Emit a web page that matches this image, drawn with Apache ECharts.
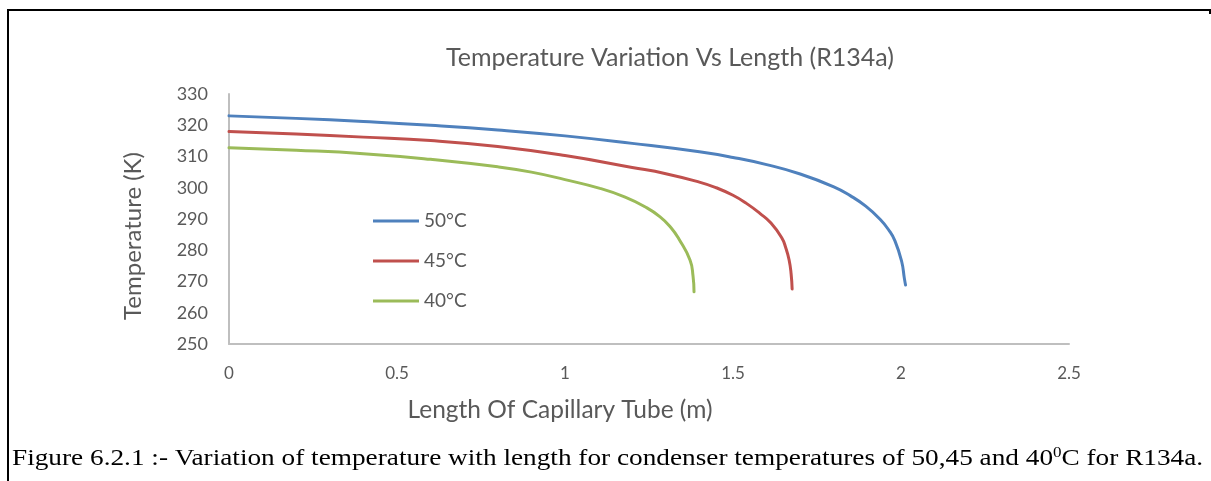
<!DOCTYPE html>
<html>
<head>
<meta charset="utf-8">
<script src="https://cdn.jsdelivr.net/npm/echarts@6/dist/echarts.min.js"></script>
<style>
  html, body { margin: 0; padding: 0; background: #fff; }
  #main { width: 1211px; height: 481px; }
</style>
</head>
<body>
<div id="main"></div>
<script>
// data
const seriesNames = ['50°C', '45°C', '40°C']
const xTicks = [0, 0.5, 1, 1.5, 2, 2.5]
const yTicks = [250, 260, 270, 280, 290, 300, 310, 320, 330]

const len50 = [0, 0.2, 0.4, 0.6, 0.8, 1.0, 1.2, 1.4, 1.5, 1.6, 1.7, 1.8, 1.85, 1.895, 1.937, 1.964, 1.982, 2.002, 2.01, 2.0135]
const temp50 = [323.0, 322.2, 321.2, 320.0, 318.5, 316.6, 314.2, 311.5, 309.7, 307.4, 304.4, 300.3, 297.4, 294.1, 290.0, 286.4, 283.0, 276.4, 271.0, 268.9]

const len45 = [0, 0.2, 0.4, 0.6, 0.8, 1.0, 1.2, 1.3, 1.4, 1.45, 1.5, 1.54, 1.58, 1.613, 1.645, 1.657, 1.667, 1.673, 1.676]
const temp45 = [318.0, 317.2, 316.2, 315.1, 313.2, 310.3, 306.5, 304.5, 301.8, 300.0, 297.6, 295.0, 291.8, 288.7, 284.0, 280.8, 276.9, 272.4, 267.6]

const len40 = [0, 0.2, 0.4, 0.6, 0.8, 0.9, 1.0, 1.104, 1.179, 1.238, 1.283, 1.315, 1.339, 1.372, 1.381, 1.384]
const temp40 = [312.8, 312.0, 310.9, 309.1, 306.7, 305.0, 302.6, 299.8, 297.0, 293.9, 290.7, 287.3, 283.6, 276.9, 271.8, 266.7]

const colors = ['#4F81BD', '#C0504D', '#9BBB59']
const font = 'Lato, "Open Sans", sans-serif'
const grey = '#595959'

function pairs (xs, ys) {
  return xs.map((x, i) => [x, ys[i]])
}

const chart = echarts.init(document.getElementById('main'))

const lines = [pairs(len50, temp50), pairs(len45, temp45), pairs(len40, temp40)]

const option = {
  animation: false,
  backgroundColor: '#fff',
  textStyle: { fontFamily: font },
  title: {
    text: 'Temperature Variation Vs Length (R134a)',
    left: 665,
    top: 40,
    textAlign: 'center',
    textStyle: { fontFamily: font, fontSize: 25, fontWeight: 'normal', color: grey }
  },
  grid: { left: 229, right: 142, top: 94, bottom: 137, containLabel: false },
  legend: {
    orient: 'vertical',
    left: 368,
    top: 206,
    icon: 'rect',
    itemWidth: 46,
    itemHeight: 3,
    itemGap: 20,
    data: seriesNames,
    textStyle: { fontFamily: font, fontSize: 19, color: grey, lineHeight: 20 }
  },
  xAxis: {
    type: 'value',
    min: xTicks[0],
    max: xTicks[xTicks.length - 1],
    interval: 0.5,
    splitLine: { show: false },
    axisTick: { show: false },
    axisLine: { show: true, lineStyle: { color: '#BFBFBF', width: 2 } },
    axisLabel: { margin: 21, fontFamily: font, fontSize: 17, color: grey }
  },
  yAxis: {
    type: 'value',
    min: yTicks[0],
    max: yTicks[yTicks.length - 1],
    interval: 10,
    splitLine: { show: false },
    axisTick: { show: false },
    axisLine: { show: true, lineStyle: { color: '#BFBFBF', width: 2 } },
    axisLabel: { margin: 21, fontFamily: font, fontSize: 18, color: grey }
  },
  series: seriesNames.map((name, i) => ({
    name: name,
    type: 'line',
    data: lines[i],
    symbol: 'none',
    smooth: 0.5,
    lineStyle: { width: 3, color: colors[i], cap: 'round' },
    itemStyle: { color: colors[i] }
  })),
  graphic: [
    // axis titles
    {
      type: 'text',
      x: 133,
      y: 236,
      rotation: Math.PI / 2,
      style: {
        text: 'Temperature (K)',
        fontFamily: font,
        fontSize: 24,
        fill: grey,
        align: 'center',
        verticalAlign: 'middle'
      }
    },
    {
      type: 'text',
      x: 560,
      y: 410,
      style: {
        text: 'Length Of Capillary Tube (m)',
        fontFamily: font,
        fontSize: 24.5,
        fill: grey,
        align: 'center',
        verticalAlign: 'middle'
      }
    },
    // page border round the figure
    {
      type: 'polyline',
      shape: { points: [[8, 481], [8, 10], [1210, 10], [1210, 14]] },
      style: { stroke: '#000', lineWidth: 2, fill: null }
    },
    // caption under the chart, stretched like the scanned page
    {
      type: 'text',
      x: 12,
      y: 459,
      scaleX: 1.136,
      style: {
        text: '{a|Figure 6.2.1 :- Variation of temperature with length for condenser temperatures of 50,45 and 40}{s|0}{a|C for R134a.}',
        fontFamily: '"Liberation Serif", "Times New Roman", serif',
        verticalAlign: 'middle',
        fill: '#000',
        rich: {
          a: { fontFamily: '"Liberation Serif", serif', fontSize: 24, fill: '#000', lineHeight: 26 },
          s: { fontFamily: '"Liberation Serif", serif', fontSize: 15, fill: '#000', verticalAlign: 'top', lineHeight: 26, padding: [0, 0, 12, 0] }
        }
      }
    }
  ]
}

chart.setOption(option)
window.addEventListener('resize', function () {
  chart.resize()
})
</script>
</body>
</html>
